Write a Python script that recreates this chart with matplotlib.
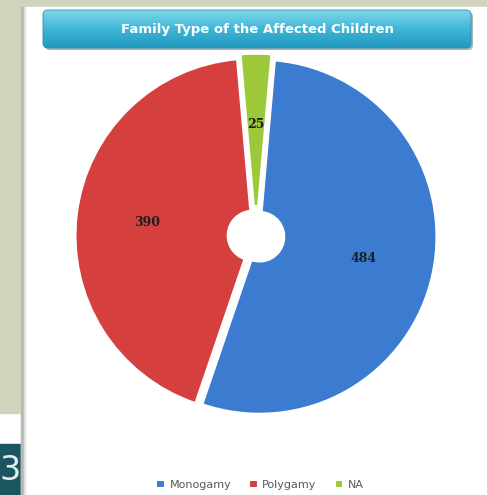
import numpy as np
from matplotlib import pyplot as plt
from matplotlib.patches import Rectangle, FancyBboxPatch
from matplotlib.colors import LinearSegmentedColormap

# data
categorias = ["Monogamy", "Polygamy", "NA"]
valores = [484, 390, 25]
cores = ["#3b7bd0", "#d53f3e", "#9cc83a"]
titulo = "Family Type of the Affected Children"
numero_pagina = "30"

W, H = 487, 495
fig = plt.figure(figsize=(W / 100, H / 100), dpi=100)
fig.patch.set_facecolor("white")

# fundo em coordenadas de pixel
bg = fig.add_axes([0, 0, 1, 1], zorder=0)
bg.set_xlim(0, W)
bg.set_ylim(H, 0)
bg.axis("off")

bege = "#d2d3bd"
bg.add_patch(Rectangle((0, 0), W, 7, color=bege, zorder=0.1))
bg.add_patch(Rectangle((0, 0), 21, 413, color=bege, zorder=0.1))
bg.add_patch(Rectangle((0, 444), 21, 51, color="#1b5660", zorder=0.1))
bg.text(-1, 470, numero_pagina, color="#e4ecec", fontsize=24,
        va="center", ha="left", zorder=0.2)
# painel branco por cima do texto da pagina
bg.add_patch(Rectangle((21, 7), W, H, color="white", zorder=0.3))
bg.add_patch(Rectangle((21, 7), 2.5, H, color="#b8b8b2", zorder=0.4))
bg.add_patch(Rectangle((23.5, 7), 1.5, H, color="#e2e2e2", zorder=0.4))

# caixa do titulo com gradiente
sombra = FancyBboxPatch((45, 12), 428, 38, boxstyle="round,pad=0,rounding_size=5",
                        fc="#a9b4b8", ec="none", zorder=0.5)
bg.add_patch(sombra)
caixa = FancyBboxPatch((43, 10), 428, 38, boxstyle="round,pad=0,rounding_size=5",
                       fc="none", ec="#2a90b0", lw=0.6, zorder=0.7)
bg.add_patch(caixa)
cmap = LinearSegmentedColormap.from_list("t", ["#7fd8ea", "#3fb6d6", "#2299c0"])
grad = np.linspace(0, 1, 64).reshape(-1, 1)
im = bg.imshow(grad, cmap=cmap, aspect="auto", extent=[43, 471, 48, 10],
               interpolation="bilinear", zorder=0.6)
im.set_clip_path(caixa)
bg.text(257, 30, titulo, color="white", fontsize=9.5, fontweight="bold",
        ha="center", va="center", zorder=1)

# pizza
cx, cy, r, S = 256, 236, 177, 420
ax = fig.add_axes([(cx - S / 2) / W, (H - cy - S / 2) / H, S / W, S / H], zorder=1)
L = S / (2 * r)
total = sum(valores)
fatias, textos, autotextos = ax.pie(
    valores, colors=cores, startangle=85, counterclock=False,
    explode=[0.02, 0.02, 0.03],
    autopct=lambda p: f"{round(p * total / 100)}", pctdistance=0.6,
    wedgeprops=dict(width=0.86, edgecolor="white", linewidth=1.5),
    textprops=dict(color="#1e1e1e", fontsize=9, fontweight="bold",
                   family="DejaVu Serif"))
ax.set_xlim(-L, L)
ax.set_ylim(-L, L)
ax.set_aspect("equal")
ax.axis("off")

fig.legend(fatias, categorias, loc="center", bbox_to_anchor=(260 / W, 1 - 485 / H),
           ncol=3, frameon=False, fontsize=8, labelcolor="#595959",
           handlelength=0.8, handleheight=0.8, handletextpad=0.4,
           columnspacing=1.6)

plt.savefig("out.png", dpi=100)
